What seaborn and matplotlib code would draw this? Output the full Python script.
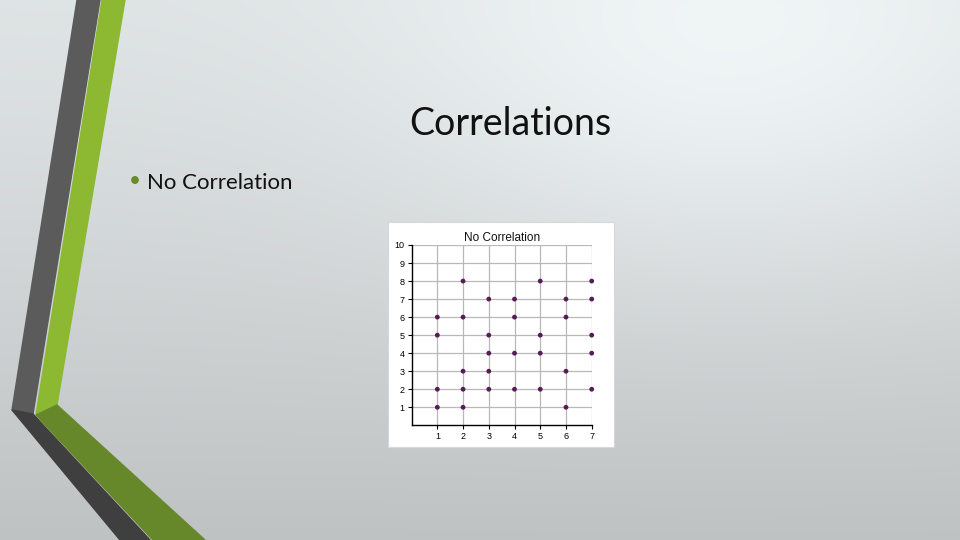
import numpy as np
import pandas as pd
import matplotlib
matplotlib.use("Agg")
import matplotlib.pyplot as plt
from matplotlib.patches import Polygon, Rectangle
import seaborn as sns

# data
x_vals = [1, 1, 1, 1,
          2, 2, 2, 2, 2,
          3, 3, 3, 3, 3,
          4, 4, 4, 4,
          5, 5, 5, 5,
          6, 6, 6, 6,
          7, 7, 7, 7, 7]
y_vals = [1, 2, 5, 6,
          1, 2, 3, 6, 8,
          2, 3, 4, 5, 7,
          2, 4, 6, 7,
          2, 4, 5, 8,
          1, 3, 6, 7,
          2, 4, 5, 7, 8]
x_ticks = [1, 2, 3, 4, 5, 6, 7]
y_ticks = [1, 2, 3, 4, 5, 6, 7, 8, 9, 10]

df = pd.DataFrame({'x': x_vals, 'y': y_vals})

sns.set_style('white')
plt.rcParams['font.family'] = ['Lato', 'DejaVu Sans']

W, H = 960, 540
fig = plt.figure(figsize=(9.6, 5.4), dpi=100)

# slide background gradient (mostly vertical, light spot upper right)
bg = fig.add_axes([0, 0, 1, 1])
yy, xx = np.mgrid[0:H, 0:W]
v = 0.895 - 0.13 * (yy / H) ** 1.2
spot = np.exp(-(((xx - 730) / 330.0) ** 2 + ((yy - 70) / 220.0) ** 2))
v = np.clip(v + 0.075 * spot, 0, 1)
bg.imshow(np.dstack([v * 0.975, v * 0.995, v]), extent=[0, W, H, 0], aspect='auto')
bg.set_xlim(0, W)
bg.set_ylim(H, 0)
bg.axis('off')

# decorative stripes on the left
bg.add_patch(Polygon([(77, 0), (100, 0), (33, 414), (12, 410)], closed=True, color='#5b5b5b'))
bg.add_patch(Polygon([(12, 410), (33, 414), (150, 540), (120, 540)], closed=True, color='#3f3f3f'))
bg.add_patch(Polygon([(102, 0), (125, 0), (57, 405), (36, 415)], closed=True, color='#8cb832'))
bg.add_patch(Polygon([(36, 415), (57, 405), (205, 540), (153, 540)], closed=True, color='#67882a'))

# slide texts
fig.text(510 / W, 1 - 124 / H, 'Correlations', fontsize=27, ha='center', va='center', color='#111111')
fig.text(135 / W, 1 - 181 / H, '•', fontsize=15, ha='center', va='center', color='#6a8a2a')
fig.text(147 / W, 1 - 183 / H, 'No Correlation', fontsize=16, ha='left', va='center', color='#111111')

# white chart card
bg.add_patch(Rectangle((388, 222), 226, 225, facecolor='white', edgecolor='#d8d8d8', lw=0.8))

# chart axes
x0, x1 = 411.6, 591.7
y0, y1 = 245.0, 425.3
ax = fig.add_axes([x0 / W, 1 - y1 / H, (x1 - x0) / W, (y1 - y0) / H])
ax.set_facecolor('white')
sns.scatterplot(data=df, x='x', y='y', ax=ax, color='#561c56', s=12,
                edgecolor='none', marker='o', zorder=3, clip_on=False)
ax.set_xlim(0, 7)
ax.set_ylim(0, 10)
ax.set_xticks(x_ticks)
ax.set_yticks(y_ticks)
ax.grid(True, color='#b8b8b8', lw=0.9)
ax.set_axisbelow(True)
for s in ['top', 'right']:
    ax.spines[s].set_visible(False)
for s in ['left', 'bottom']:
    ax.spines[s].set_color('black')
    ax.spines[s].set_linewidth(1.0)
ax.tick_params(axis='both', direction='out', length=3, width=0.8, labelsize=6.5,
               pad=2, colors='black', left=True, bottom=True)
for lab in ax.get_xticklabels() + ax.get_yticklabels():
    lab.set_family(['Liberation Sans', 'DejaVu Sans'])
ax.set_xlabel('')
ax.set_ylabel('')
ax.set_title('No Correlation', fontsize=8.5, family=['Liberation Sans', 'DejaVu Sans'],
             pad=3, color='#111111')

fig.savefig('out.png', dpi=100)
